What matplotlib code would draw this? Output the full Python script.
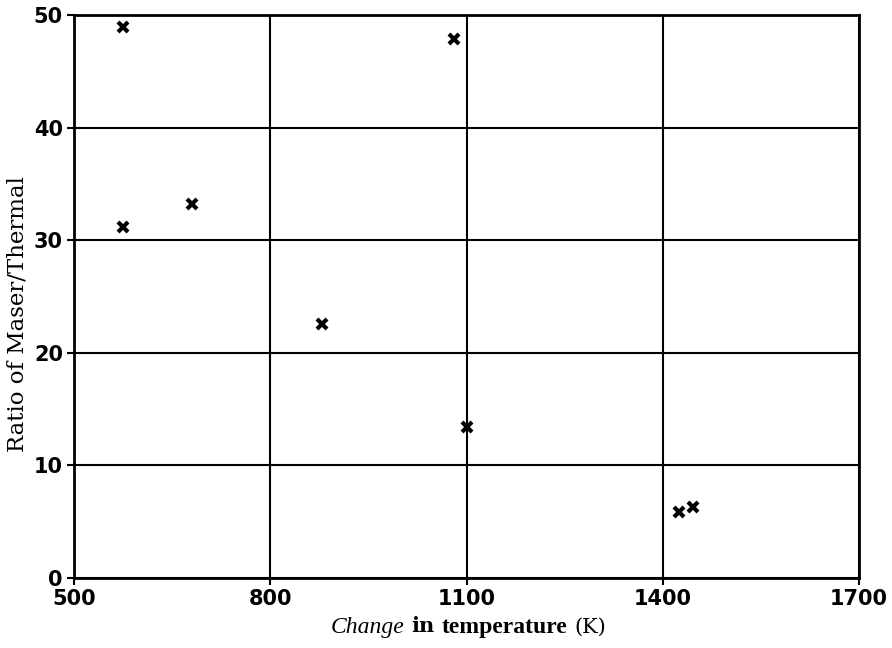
import matplotlib
matplotlib.use("Agg")
import matplotlib.pyplot as plt
from matplotlib.offsetbox import TextArea, HPacker, AnnotationBbox

# values
temp_change = [575, 1081, 575, 680, 879, 1100, 1425, 1446]
ratio = [48.9, 47.9, 31.2, 33.2, 22.6, 13.4, 5.9, 6.3]
x_ticks = [500, 800, 1100, 1400, 1700]
y_ticks = [0, 10, 20, 30, 40, 50]

fig = plt.figure(figsize=(8.92, 6.48), dpi=100)
ax = fig.add_axes([74 / 892, 1 - 578 / 648, 785 / 892, 563 / 648])

ax.plot(temp_change, ratio, linestyle="none", marker="x", color="black",
        markersize=7.5, markeredgewidth=3, zorder=3)

ax.set_xlim(500, 1700)
ax.set_ylim(0, 50)
ax.set_xticks(x_ticks)
ax.set_yticks(y_ticks)
ax.grid(True, color="black", linewidth=1.5)
ax.set_axisbelow(True)
for s in ax.spines.values():
    s.set_linewidth(2)
ax.tick_params(direction="out", length=5, width=1.5, pad=3,
               labelsize=15, top=False, right=False)
for lab in ax.get_xticklabels() + ax.get_yticklabels():
    lab.set_fontweight("bold")
    lab.set_family("DejaVu Sans")

# y label
fig.text(18 / 892, 1 - 314 / 648, "Ratio of Maser/Thermal", rotation=90,
         ha="center", va="center", family="DejaVu Serif", fontsize=16.5)

# x label in mixed fonts
parts = [
    TextArea("Change", textprops=dict(family="Liberation Serif", style="italic", size=17)),
    TextArea("in", textprops=dict(family="DejaVu Serif", weight="bold", size=15)),
    TextArea("temperature", textprops=dict(family="Liberation Serif", weight="bold", size=17)),
    TextArea("(K)", textprops=dict(family="DejaVu Serif", size=15)),
]
box = HPacker(children=parts, sep=5, align="baseline", pad=0)
ab = AnnotationBbox(box, (468 / 892, 1 - 627 / 648), xycoords="figure fraction",
                    frameon=False, box_alignment=(0.5, 0.5), pad=0)
fig.add_artist(ab)

fig.savefig("out.png", dpi=100)
